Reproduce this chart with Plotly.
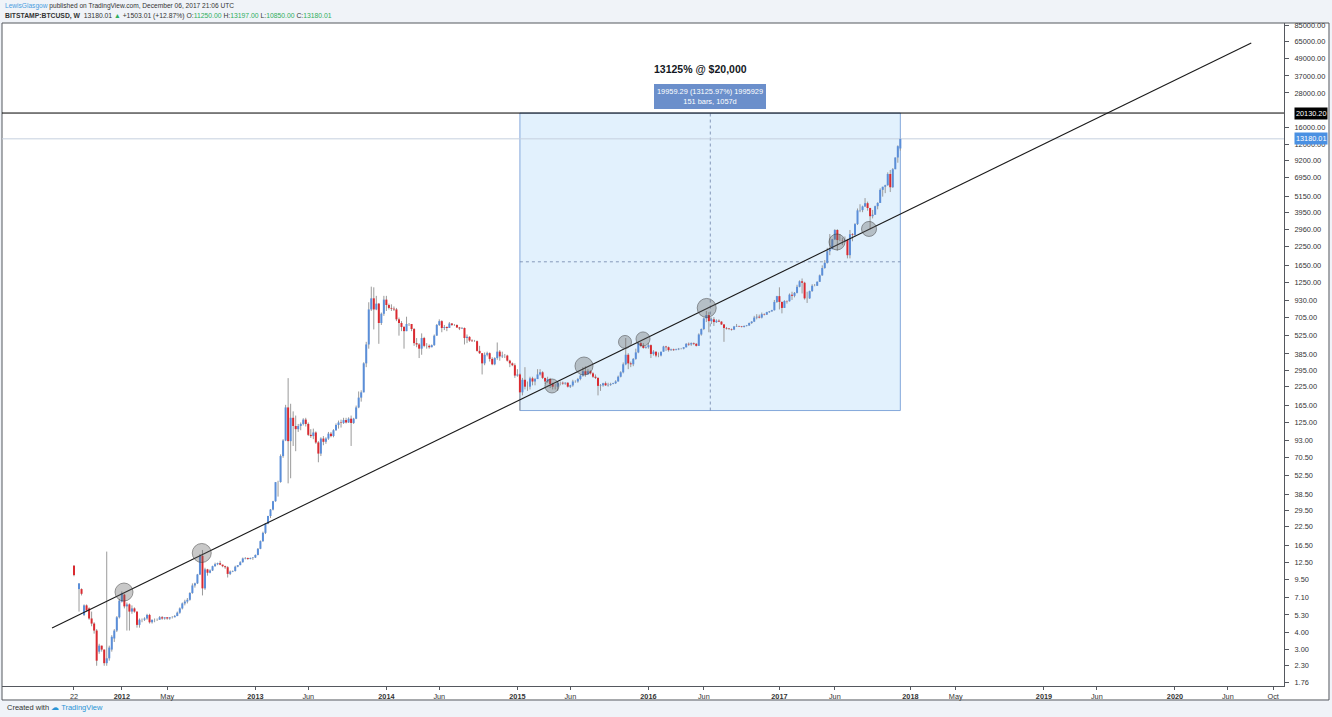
import numpy as np
import pandas as pd
import plotly.graph_objects as go

# ---------------- data (weekly BITSTAMP:BTCUSD) ----------------
first_week = "2011-08-22"
n_weeks = 329
week_dates = pd.date_range(first_week, periods=n_weeks, freq="7D")

opens = [
    # 2011
    11.9, None, 8.1, 8.1, 5.3, 6.2, 5.9, 5.0, 4.6, 4.1, 2.9, 3.2, 3.0, 2.4, 2.6, 3.0, 3.6, 4.1, 5.1,
    # 2012
    6.6, 7.4, 6.1, 6.3, 5.6, 5.9, 5.6, 4.5, 4.9, 4.9, 5.0, 5.3, 4.7, 4.9, 4.9, 4.9, 5.1, 5.0, 5.1, 5.0,
    5.1, 5.1, 5.2, 5.5, 5.9, 6.4, 6.6, 6.8, 7.6, 8.6, 8.9, 10.3, 14.0, 8.2, 11.2, 10.6, 11.0, 11.8, 12.2, 12.4,
    12.1, 11.8, 11.6, 10.4, 10.8, 10.9, 11.7, 12.0, 12.6, 13.4, 13.5, 13.3, 13.5,
    # 2013
    13.6, 14.2, 15.7, 17.8, 20.4, 23.7, 26.9, 29.9, 34.3, 46.9, 47.0, 72, 93, 160, 92, 135, 118, 112, 118, 122,
    131, 122, 102, 100, 106, 90, 75, 96, 91, 96, 104, 100, 110, 120, 125, 124, 130, 125, 133, 124,
    133, 160, 188, 205, 330, 450, 800, 960, 800, 880, 640, 745,
    # 2014
    940, 860, 820, 810, 800, 680, 640, 600, 560, 630, 630, 580, 460, 450, 420, 500, 440, 440, 430, 445,
    520, 620, 660, 590, 600, 590, 635, 620, 620, 595, 585, 590, 500, 510, 480, 475, 475, 405, 390, 330,
    380, 390, 355, 325, 360, 400, 370, 375, 375, 345, 330, 320,
    # 2015
    270, 275, 205, 252, 225, 225, 258, 245, 255, 275, 285, 260, 245, 255, 235, 225, 225, 240, 240, 237,
    240, 225, 230, 245, 245, 255, 270, 290, 275, 290, 280, 265, 260, 228, 230, 238, 230, 232, 235, 238,
    245, 265, 285, 325, 380, 330, 325, 355, 395, 460, 440, 425,
    # 2016
    430, 445, 385, 400, 375, 375, 400, 435, 430, 410, 415, 410, 415, 420, 420, 430, 455, 450, 460, 455,
    440, 530, 580, 690, 730, 660, 680, 650, 665, 655, 625, 590, 585, 580, 575, 605, 610, 605, 600, 610,
    615, 640, 655, 700, 710, 700, 740, 735, 765, 775, 790, 905,
    # 2017
    995, 905, 820, 920, 915, 1020, 1000, 1050, 1160, 1270, 1240, 960, 960, 1080, 1180, 1180, 1260, 1400, 1580, 1720,
    2080, 2150, 2530, 2950, 2500, 2500, 2490, 2510, 1950, 2750, 2720, 3250, 4070, 4090, 4340, 4580, 4230, 3700, 3790, 4360,
    4600, 5700, 6000, 6150, 7400, 5950, 8000, 9700, 11250,
]
highs = [
    # 2011
    12.0, None, 8.9, 8.2, 6.3, 6.3, 6.0, 5.6, 4.7, 4.2, 3.3, 3.2, 3.0, 15.0, 3.2, 3.8, 4.2, 5.2, 6.9,
    # 2012
    7.8, 7.5, 6.5, 6.4, 6.2, 6.0, 5.6, 5.0, 5.0, 5.1, 5.4, 5.4, 4.9, 5.0, 5.0, 5.2, 5.2, 5.1, 5.1, 5.1,
    5.2, 5.3, 5.6, 6.0, 6.5, 6.8, 7.0, 7.7, 8.9, 9.0, 10.4, 14.4, 15.4, 11.5, 11.3, 11.2, 11.9, 12.5, 12.5, 12.9,
    12.1, 11.9, 11.8, 11.0, 11.0, 11.9, 12.0, 12.8, 13.6, 13.7, 13.6, 13.6, 13.7,
    # 2013
    14.3, 15.9, 18.0, 20.8, 24.0, 27.0, 30.2, 34.5, 47.0, 48.0, 74.0, 95, 167, 259, 170, 150, 140, 122, 125, 134,
    135, 125, 112, 113, 108, 92, 98, 100, 98, 107, 107, 112, 123, 129, 131, 135, 135, 136, 140, 135,
    165, 208, 212, 336, 470, 900, 1163, 1150, 1000, 890, 760, 1000,
    # 2014
    1000, 880, 870, 840, 820, 700, 660, 610, 710, 640, 630, 590, 500, 460, 540, 510, 460, 450, 450, 530,
    630, 680, 670, 620, 605, 650, 640, 630, 625, 600, 600, 595, 530, 515, 490, 485, 480, 440, 390, 395,
    400, 395, 365, 365, 465, 410, 400, 385, 380, 350, 335, 330,
    # 2015
    300, 280, 260, 310, 245, 265, 265, 260, 300, 300, 290, 260, 265, 260, 240, 235, 245, 245, 245, 242,
    242, 232, 252, 250, 260, 275, 310, 315, 300, 295, 285, 275, 262, 235, 240, 245, 240, 240, 240, 250,
    270, 290, 335, 500, 390, 340, 360, 420, 470, 470, 460, 440,
    # 2016
    460, 450, 410, 400, 395, 400, 440, 440, 435, 420, 420, 420, 425, 425, 430, 460, 465, 465, 465, 460,
    540, 585, 700, 780, 765, 700, 705, 680, 680, 660, 630, 600, 590, 585, 610, 630, 612, 610, 615, 620,
    645, 660, 720, 740, 735, 760, 750, 770, 780, 795, 935, 1000,
    # 2017
    1150, 910, 930, 925, 1040, 1070, 1065, 1200, 1290, 1330, 1260, 1070, 1090, 1210, 1215, 1270, 1420, 1650, 1800, 2200,
    2760, 2550, 2990, 2990, 2760, 2600, 2650, 2550, 2950, 2800, 3300, 4200, 4500, 4400, 4980, 4700, 4250, 4100, 4400, 4650,
    5850, 6000, 6200, 7600, 7900, 8150, 9700, 11850, 13197,
]
lows = [
    # 2011
    10.0, None, 5.6, 7.3, 5.2, 5.6, 4.9, 4.4, 3.9, 2.3, 2.8, 2.9, 2.3, 2.3, 2.5, 2.9, 3.4, 4.0, 5.0,
    # 2012
    6.5, 5.9, 4.1, 4.1, 5.4, 5.5, 4.3, 4.3, 4.7, 4.8, 4.9, 4.6, 4.6, 4.7, 4.8, 4.9, 4.9, 4.9, 4.9, 4.9,
    5.0, 5.1, 5.2, 5.4, 5.8, 6.2, 6.4, 6.7, 7.5, 8.3, 8.8, 10.2, 7.3, 8.0, 10.1, 10.5, 10.9, 11.7, 12.0, 12.0,
    11.6, 11.3, 9.8, 10.2, 10.7, 10.8, 11.6, 12.0, 12.5, 13.2, 13.1, 13.2, 13.1,
    # 2013
    13.5, 14.1, 15.6, 17.6, 20.0, 23.5, 26.0, 29.5, 34.0, 37.0, 46.5, 70, 92, 46, 50, 85, 78, 107, 110, 119,
    117, 100, 97, 95, 88, 65, 72, 86, 88, 94, 98, 98, 109, 113, 115, 122, 123, 124, 85, 122,
    132, 158, 176, 205, 310, 420, 780, 576, 790, 455, 620, 720,
    # 2014
    780, 800, 780, 780, 660, 520, 560, 420, 560, 610, 560, 440, 430, 360, 380, 430, 420, 420, 430, 440,
    520, 610, 550, 570, 560, 590, 610, 610, 590, 570, 580, 450, 460, 470, 470, 470, 400, 385, 275, 320,
    370, 340, 320, 320, 350, 345, 360, 360, 340, 310, 315, 260,
    # 2015
    265, 152.07, 195, 215, 210, 215, 230, 230, 255, 270, 255, 235, 240, 220, 215, 215, 210, 230, 232, 232,
    222, 220, 225, 240, 240, 250, 265, 265, 275, 275, 260, 255, 195, 210, 225, 228, 225, 228, 234, 235,
    245, 262, 280, 320, 300, 310, 315, 350, 390, 430, 420, 420,
    # 2016
    420, 360, 375, 365, 365, 370, 400, 405, 400, 405, 405, 410, 410, 415, 415, 428, 440, 440, 445, 435,
    440, 520, 570, 650, 550, 630, 610, 640, 650, 620, 470, 575, 570, 565, 570, 600, 600, 595, 595, 605,
    610, 630, 650, 680, 690, 690, 725, 730, 755, 770, 785, 890,
    # 2017
    800, 750, 820, 880, 910, 935, 975, 1040, 1150, 1040, 940, 890, 950, 1070, 1170, 1175, 1255, 1390, 1560, 1700,
    1950, 2150, 2500, 2100, 2460, 2300, 2450, 1850, 1850, 2450, 2650, 3200, 3950, 3950, 4300, 4050, 2970, 3570, 3780, 4140,
    4600, 5100, 5400, 6100, 5500, 5900, 8000, 8900, 10850,
]
closes = [
    # 2011
    10.2, None, 8.9, 7.5, 6.2, 5.7, 5.0, 4.6, 4.1, 2.5, 3.2, 3.0, 2.4, 2.6, 3.1, 3.7, 4.1, 5.1, 6.7,
    # 2012
    7.6, 6.1, 6.3, 5.6, 5.9, 5.6, 4.5, 4.9, 4.9, 5.0, 5.3, 4.7, 4.9, 4.9, 4.9, 5.1, 5.0, 5.1, 5.0, 5.1,
    5.1, 5.2, 5.5, 5.9, 6.4, 6.6, 6.8, 7.6, 8.6, 8.9, 10.3, 14.0, 8.2, 11.2, 10.6, 11.0, 11.8, 12.2, 12.4, 12.1,
    11.8, 11.6, 10.4, 10.8, 10.9, 11.7, 12.0, 12.6, 13.4, 13.5, 13.3, 13.5, 13.6,
    # 2013
    14.2, 15.7, 17.8, 20.4, 23.7, 26.9, 29.9, 34.3, 46.9, 47.0, 72, 93, 160, 92, 135, 118, 112, 118, 122, 131,
    122, 102, 100, 106, 90, 75, 96, 91, 96, 104, 100, 110, 120, 125, 124, 130, 125, 133, 124, 133,
    160, 188, 205, 330, 450, 800, 960, 800, 880, 640, 745, 940,
    # 2014
    860, 820, 810, 800, 680, 640, 600, 560, 630, 630, 580, 460, 450, 420, 500, 440, 440, 430, 445, 520,
    620, 660, 590, 600, 590, 635, 620, 620, 595, 585, 590, 500, 510, 480, 475, 475, 405, 390, 330, 380,
    390, 355, 325, 360, 400, 370, 375, 375, 345, 330, 320, 270,
    # 2015
    275, 205, 252, 225, 225, 258, 245, 255, 275, 285, 260, 245, 255, 235, 225, 225, 240, 240, 237, 240,
    225, 230, 245, 245, 255, 270, 290, 275, 290, 280, 265, 260, 228, 230, 238, 230, 232, 235, 238, 245,
    265, 285, 325, 380, 330, 325, 355, 395, 460, 440, 425, 430,
    # 2016
    445, 385, 400, 375, 375, 400, 435, 430, 410, 415, 410, 415, 420, 420, 430, 455, 450, 460, 455, 440,
    530, 580, 690, 730, 660, 680, 650, 665, 655, 625, 590, 585, 580, 575, 605, 610, 605, 600, 610, 615,
    640, 655, 700, 710, 700, 740, 735, 765, 775, 790, 905, 995,
    # 2017
    905, 820, 920, 915, 1020, 1000, 1050, 1160, 1270, 1240, 960, 960, 1080, 1180, 1180, 1260, 1400, 1580, 1720, 2080,
    2150, 2530, 2950, 2500, 2500, 2490, 2510, 1950, 2750, 2720, 3250, 4070, 4090, 4340, 4580, 4230, 3700, 3790, 4360, 4600,
    5700, 6000, 6150, 7400, 5950, 8000, 9700, 11677, 13180.01,
]
assert len(opens) == len(highs) == len(lows) == len(closes) == n_weeks

# price axis ticks (TradingView log scale)
price_ticks = [85000, 65000, 49000, 37000, 28000, 16000, 12000, 9200, 6950, 5150, 3950, 2960, 2250,
               1650, 1250, 930, 705, 525, 385, 295, 225, 165, 125, 93, 70.5, 52.5, 38.5, 29.5, 22.5,
               16.5, 12.5, 9.5, 7.1, 5.3, 4.0, 3.0, 2.3, 1.76]
# time axis ticks
time_tick_dates = ["2011-08-22", "2012-01-02", "2012-05-07", "2013-01-07", "2013-06-03", "2014-01-06",
                   "2014-06-02", "2015-01-05", "2015-06-01", "2016-01-04", "2016-06-06", "2017-01-02",
                   "2017-06-05", "2018-01-01", "2018-05-07", "2019-01-07", "2019-06-03", "2020-01-06",
                   "2020-06-01", "2020-10-05"]
time_tick_labels = ["22", "<b>2012</b>", "May", "<b>2013</b>", "Jun", "<b>2014</b>", "Jun", "<b>2015</b>",
                    "Jun", "<b>2016</b>", "Jun", "<b>2017</b>", "Jun", "<b>2018</b>", "May", "<b>2019</b>",
                    "Jun", "<b>2020</b>", "Jun", "Oct"]

# drawings
trend_dates = ["2011-06-22", "2020-08-05"]
trend_prices = [4.28, 63650]
level_price = 20130.20
last_price = 13180.01
range_start, range_end = "2015-01-12", "2017-12-04"
range_low, range_high = 152.07, 20111.36
range_mid_date = "2016-06-24"
circle_dates = ["2012-01-08", "2012-08-11", "2015-04-11", "2015-07-09", "2015-10-31",
                "2015-12-20", "2016-06-14", "2017-06-11", "2017-09-08"]
circle_prices = [7.72, 14.66, 227.6, 316, 469, 493, 820, 2423, 3000]
circle_sizes = [18, 19, 14, 18, 13, 14, 19, 16, 15]

x_range = ["2011-02-03", "2020-11-04"]
y_range_log = [0.2174, 4.946]

UP = "#5a8ed9"
DOWN = "#da2a30"
WICK = "#9a9a9a"
FONT = "Liberation Sans, Arial, sans-serif"

# ---------------- build candle segments ----------------
wx, wy, ux, uy, dx, dy = [], [], [], [], [], []
for d, o, h, l, c in zip(week_dates, opens, highs, lows, closes):
    if o is None:
        continue
    wx += [d, d, None]
    wy += [l, h, None]
    if c >= o:
        ux += [d, d, None]
        uy += [o, c, None]
    else:
        dx += [d, d, None]
        dy += [o, c, None]

fig = go.Figure()

# price range box
fig.add_trace(go.Scatter(
    x=[range_start, range_end, range_end, range_start, range_start],
    y=[range_low, range_low, range_high, range_high, range_low],
    mode="lines", fill="toself", fillcolor="rgba(33,150,243,0.13)",
    line=dict(color="rgba(120,160,215,0.9)", width=1), hoverinfo="skip"))
mid_price = float(np.sqrt(range_low * range_high))
fig.add_trace(go.Scatter(x=[range_mid_date, range_mid_date], y=[range_low, range_high], mode="lines",
                         line=dict(color="rgba(110,130,170,0.8)", width=1, dash="dot"), hoverinfo="skip"))
fig.add_trace(go.Scatter(x=[range_start, range_end], y=[mid_price, mid_price], mode="lines",
                         line=dict(color="rgba(110,130,170,0.8)", width=1, dash="dot"), hoverinfo="skip"))

# horizontal levels
fig.add_trace(go.Scatter(x=x_range, y=[last_price, last_price], mode="lines",
                         line=dict(color="#c5d0de", width=1), hoverinfo="skip"))
fig.add_trace(go.Scatter(x=x_range, y=[level_price, level_price], mode="lines",
                         line=dict(color="#000000", width=1), hoverinfo="skip"))

# candles
fig.add_trace(go.Scatter(x=wx, y=wy, mode="lines", line=dict(color=WICK, width=1), hoverinfo="skip"))
fig.add_trace(go.Scatter(x=ux, y=uy, mode="lines", line=dict(color=UP, width=2), hoverinfo="skip"))
fig.add_trace(go.Scatter(x=dx, y=dy, mode="lines", line=dict(color=DOWN, width=2), hoverinfo="skip"))

# trend line
fig.add_trace(go.Scatter(x=trend_dates, y=trend_prices, mode="lines",
                         line=dict(color="#1a1a1a", width=1.1), hoverinfo="skip"))

# circles
fig.add_trace(go.Scatter(x=circle_dates, y=circle_prices, mode="markers",
                         marker=dict(size=circle_sizes, color="rgba(100,100,100,0.5)",
                                     line=dict(color="rgba(60,60,60,0.75)", width=1)),
                         hoverinfo="skip"))

green = "#2fae5c"
header1 = ('<span style="color:#4a9de0">LewisGlasgow</span> published on TradingView.com, '
           'December 06, 2017 21:06 UTC')
header2 = ('<b>BITSTAMP:BTCUSD, W</b>  13180.01 <span style="color:%s">▲</span> +1503.01 (+12.87%%) '
           'O:<span style="color:%s">11250.00</span> H:<span style="color:%s">13197.00</span> '
           'L:<span style="color:%s">10850.00</span> C:<span style="color:%s">13180.01</span>'
           % (green, green, green, green, green))

annotations = [
    dict(xref="paper", yref="paper", x=0, y=1, xanchor="left", yanchor="middle", xshift=1, yshift=17,
         text=header1, showarrow=False, font=dict(size=6.6, color="#333", family=FONT)),
    dict(xref="paper", yref="paper", x=0, y=1, xanchor="left", yanchor="middle", xshift=1, yshift=7,
         text=header2, showarrow=False, font=dict(size=6.8, color="#333", family=FONT)),
    dict(xref="paper", yref="paper", x=0.5452, y=0.9306, xanchor="center", yanchor="middle",
         text="<b>13125% @ $20,000</b>", showarrow=False, font=dict(size=10.5, color="#131722", family=FONT)),
    dict(xref="x", yref="y", x=range_mid_date, y=float(np.log10(range_high)), xanchor="center",
         yanchor="bottom", yshift=4, showarrow=False,
         text="19959.29 (13125.97%) 1995929<br>151 bars, 1057d",
         bgcolor="#6b8fcb", bordercolor="#6b8fcb", borderpad=2,
         font=dict(size=7.4, color="white", family=FONT)),
    dict(xref="paper", yref="y", x=1, y=float(np.log10(level_price)), xanchor="left", yanchor="middle",
         xshift=10, showarrow=False, text="20130.20", bgcolor="#000000", borderpad=1,
         font=dict(size=7.3, color="white", family=FONT)),
    dict(xref="paper", yref="y", x=1, y=float(np.log10(last_price)), xanchor="left", yanchor="middle",
         xshift=10, showarrow=False, text="13180.01", bgcolor="#4a90e2", borderpad=1,
         font=dict(size=7.3, color="white", family=FONT)),
    dict(xref="paper", yref="paper", x=0, y=0, xanchor="left", yanchor="middle", xshift=3, yshift=-21,
         showarrow=False,
         text='Created with <span style="color:#2a93d5">☁ TradingView</span>',
         font=dict(size=7.5, color="#333", family=FONT)),
]

shapes = [
    dict(type="rect", xref="paper", yref="paper", x0=0, x1=1.0351, y0=-0.0211, y1=1.0,
         fillcolor="white", line=dict(color="#55585f", width=1), layer="below"),
]

fig.update_layout(
    width=1332, height=717,
    margin=dict(l=2, r=48, t=23, b=31),
    paper_bgcolor="#f0f3f8", plot_bgcolor="white",
    showlegend=False, hovermode=False,
    font=dict(family=FONT, size=7, color="#333"),
    annotations=annotations, shapes=shapes,
    xaxis=dict(type="date", range=x_range, tickvals=time_tick_dates, ticktext=time_tick_labels,
               ticks="outside", ticklen=3, tickcolor="#55585f", showgrid=False, zeroline=False,
               showline=True, linecolor="#55585f", linewidth=1, tickangle=0,
               tickfont=dict(size=7.3, color="#333", family=FONT), fixedrange=True),
    yaxis=dict(type="log", side="right", range=y_range_log, tickvals=price_ticks,
               ticktext=["%.2f" % v for v in price_ticks], ticks="outside", ticklen=4,
               ticklabelstandoff=4,
               tickcolor="#55585f", showgrid=False, zeroline=False, showline=True,
               linecolor="#55585f", linewidth=1,
               tickfont=dict(size=7.4, color="#333", family=FONT), fixedrange=True),
)

fig.write_html("out.html")
